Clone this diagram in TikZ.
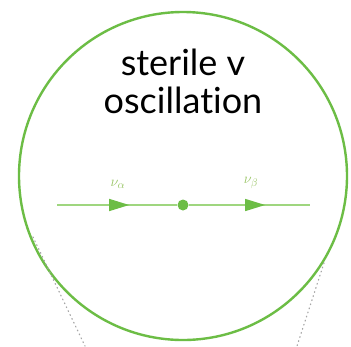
\documentclass[tikz,border=0pt]{standalone}
\usepackage{fontspec}
\setmainfont[Ligatures=NoCommon]{Lato}
\definecolor{osgreen}{HTML}{6CBD45}
\definecolor{oslight}{HTML}{9FD67F}
\usepackage{tikz}
\usetikzlibrary{arrows.meta, decorations.markings}

\tikzset{
  propline/.style={draw=oslight, line width=1.3pt,
    postaction={decorate, decoration={markings,
      mark=at position #1 with {\arrow[osgreen]{Triangle[length=20pt,width=12pt]}}}}},
  flavour/.style={text=oslight!80!olive, font=\fontsize{15}{15}\selectfont},
  leg/.style={draw=gray!70, dash pattern=on 0.8pt off 3.5pt, line width=1.2pt, line cap=round}
}

\begin{document}
\begin{tikzpicture}[x=1pt,y=-1pt]
    \useasboundingbox (0,0) rectangle (351,346);
    \fill[white] (0,0) rectangle (351,346);
    % blob
    \node[circle, draw=osgreen, line width=2.4pt, minimum size=328pt,
          inner sep=0pt] (blob) at (183,176) {};
    \node[align=center, anchor=base, font=\fontsize{36}{38}\selectfont] (title)
      at (183,113) {sterile v\\oscillation};
    % propagator
    \coordinate (start) at (57,205);
    \coordinate (stop) at (310,205);
    \node[circle, fill=osgreen, inner sep=0pt, minimum size=11pt] (vertex) at (183,205) {};
    \draw[propline=0.6] (start) -- (vertex);
    \draw[propline=0.63] (vertex) -- (stop);
    \node[flavour] (nua) at (118,184) {$\nu_\alpha$};
    \node[flavour] (nub) at (251,183) {$\nu_\beta$};
    % legs
    \coordinate (la) at (33,237);
    \coordinate (lb) at (85,346);
    \coordinate (ra) at (324,263);
    \coordinate (rb) at (297,346);
    \draw[leg] (la) -- (lb);
    \draw[leg] (ra) -- (rb);
\end{tikzpicture}
\end{document}
